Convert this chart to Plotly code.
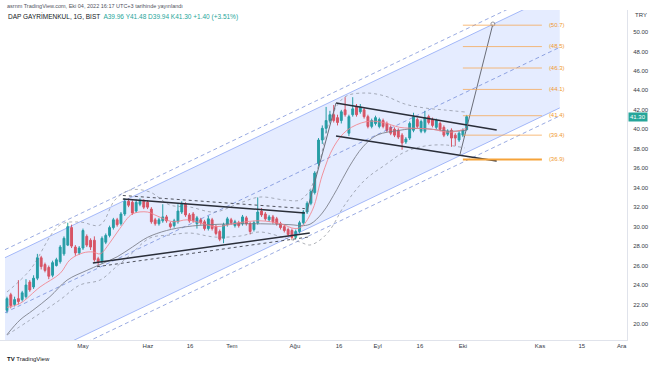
import plotly.graph_objects as go

# ---------------- data (bar index, price) ----------------
opens = [21.4,23.0,22.0,22.6,22.5,22.8,24.3,23.8,24.7,26.8,26.1,25.8,25.0,26.0,26.4,27.2,28.1,29.9,27.9,27.3,
         27.8,29.0,28.6,28.6,26.7,26.4,28.4,29.1,29.9,30.7,30.3,31.3,32.6,32.5,31.6,32.3,32.6,32.5,31.8,30.7,
         30.3,30.6,31.0,30.3,30.1,30.5,31.5,32.3,31.2,31.3,30.3,30.7,30.5,29.8,30.7,30.0,29.5,28.8,30.2,30.7,
         30.1,30.4,30.3,30.9,30.3,29.7,30.4,31.6,31.3,30.7,31.0,30.8,30.3,30.0,29.7,29.6,28.9,29.5,30.4,31.5,
         32.4,33.5,36.5,38.9,40.1,40.9,41.5,41.2,40.9,42.0,39.6,41.5,42.3,41.8,42.0,41.3,40.3,40.6,40.3,40.9,
         40.6,40.2,40.0,39.9,39.4,38.7,39.1,39.9,41.0,39.8,39.8,41.3,41.0,40.2,40.6,40.2,39.5,39.9,39.4,38.9,
         39.4,39.96]
highs = [22.8,23.2,22.8,24.5,23.4,24.6,24.5,25.0,27.2,27.0,26.3,26.0,26.5,26.8,28.1,29.0,30.4,30.2,28.1,28.0,
         29.8,29.2,28.8,29.0,26.9,29.0,29.3,30.1,30.9,30.9,31.5,32.9,32.9,32.7,32.8,32.9,32.8,32.7,32.0,30.9,
         30.9,32.3,31.2,30.5,30.8,32.3,32.6,32.5,31.4,31.5,31.1,30.9,30.7,31.1,30.9,30.2,29.7,30.4,31.0,30.9,
         30.7,30.6,31.2,31.1,30.5,30.6,33.0,31.9,31.5,31.2,31.2,31.0,30.5,30.2,29.9,29.8,29.7,30.6,31.7,32.6,
         33.8,35.7,39.1,40.4,42.3,41.9,42.5,41.5,42.0,43.3,41.5,43.3,42.6,42.6,42.2,41.5,41.1,41.4,41.2,41.1,
         40.8,40.4,40.2,40.1,39.6,39.2,40.8,41.7,41.2,41.0,41.9,41.5,41.2,41.1,40.8,40.4,40.0,40.1,39.6,39.8,
         40.1,41.48]
lows = [21.1,21.6,21.8,22.0,22.3,22.6,23.3,23.6,24.5,25.6,25.3,24.6,24.8,25.9,26.2,27.0,28.0,27.8,27.0,27.1,
        27.6,27.9,27.6,26.4,26.0,26.2,28.2,28.9,29.7,30.0,30.1,31.1,32.0,31.2,31.4,32.1,31.8,31.8,30.3,30.1,
        30.1,30.4,30.4,29.8,29.9,30.3,31.3,31.0,30.4,30.4,29.8,30.2,29.6,29.6,29.6,29.1,28.5,28.3,30.0,30.2,
        29.9,29.9,30.1,30.1,29.2,29.5,30.2,31.0,30.6,30.5,30.3,30.1,29.7,29.4,29.0,28.7,28.7,29.3,30.2,31.3,
        32.2,33.3,36.2,38.5,39.6,40.6,40.7,40.4,40.6,41.3,39.3,41.3,41.3,41.6,41.1,40.1,40.1,40.4,40.1,40.1,
        39.7,39.4,39.2,39.0,37.9,38.5,38.9,39.7,40.1,39.6,39.6,40.5,40.2,40.0,39.8,39.2,39.3,38.2,38.3,38.7,
        39.2,39.94]
closes = [22.6,21.9,22.5,22.3,23.2,24.0,23.5,24.7,26.8,25.9,25.5,24.9,26.3,26.6,27.9,28.8,30.0,28.0,27.3,27.8,
          29.6,28.1,27.9,26.6,26.4,28.8,29.1,29.9,30.7,30.2,31.3,32.6,32.2,31.4,32.5,32.6,32.0,32.0,30.5,30.3,
          30.7,31.0,30.6,30.0,30.6,31.6,32.3,31.2,30.6,30.6,30.9,30.4,29.8,30.8,29.8,29.3,28.7,30.2,30.8,30.4,
          30.5,30.1,31.0,30.3,29.5,30.4,31.5,31.2,30.8,31.0,30.5,30.3,29.9,29.6,29.2,28.9,29.5,30.4,31.5,32.4,
          33.6,35.5,38.9,40.1,40.9,41.5,40.9,40.7,41.8,41.5,41.3,42.1,41.5,42.3,41.3,40.3,40.9,41.2,41.0,40.3,
          39.9,39.6,39.4,39.2,38.6,39.0,40.6,41.3,40.3,40.8,41.2,40.7,40.4,40.9,40.0,39.4,39.8,39.1,39.1,39.6,
          39.9,41.30]
bars = list(range(len(closes)))

ma_fast_x = [0,3.4,8.7,14,16.6,20,22.6,24.5,27,29.7,33,37,39.5,43.7,47.4,50.8,55,61,66.6,72,75.8,77.6,80.5,83,86,89.5,94.7,99,103.4,108,112,116.6,121]
ma_fast_y = [21.7,22.1,23.8,25.2,26.6,27.3,27.4,27.2,28.3,29.8,31.3,31.5,31.1,30.5,30.7,30.4,30.0,30.4,30.6,30.3,29.8,30.0,31.8,35.3,38.2,39.9,40.8,40.7,40.2,40.1,40.0,39.7,40.1]
ma_slow_x = [0,3.4,6.8,11.3,15.8,21,24.5,29,33,37,42,47.4,53.4,64,74.5,78,80,83,86.8,90,93.7,97.4,103.4,108,112,116.6,121]
ma_slow_y = [18.9,20.4,21.4,22.8,24.5,25.5,26.1,26.9,27.9,28.9,29.6,30.0,30.2,30.3,30.2,30.1,30.3,31.4,33.8,36.1,38.2,39.4,39.9,40.1,40.0,39.8,39.9]

band_x = [0,6.05,13.9,19.2,24.5,28.4,32.4,37.6,42.9,48.2,54.7,61.3,66.6,73.2,77.1,79.7,82.4,85,88.9,94.2,99.5,104.7,110,115.3,120.5]
band_up = [23.28,25.54,30.16,30.47,30.16,32.73,33.76,33.56,32.22,32.01,31.5,32.43,33.04,32.73,32.73,33.76,36.84,40.96,43.32,43.73,43.42,42.6,42.19,41.98,41.78]
band_dn = [18.86,20.4,22.46,24.0,24.51,25.75,27.08,28.83,29.14,29.34,28.93,29.03,29.45,28.83,28.42,28.11,28.62,29.65,32.22,34.79,36.33,37.67,38.28,38.39,38.08]

# drawings (bar index, price)
channel_x = [-0.53, 145.5]
channel_upper = [26.81, 54.08]
channel_lower = [14.93, 42.2]
channel_upper_dash = [27.63, 54.9]
channel_lower_dash = [14.11, 41.38]
channel_mid = [21.16, 48.43]

tri_up_x = [30.5, 78.4]; tri_up_y = [32.84, 31.40]
tri_dn_x = [22.6, 79.7]; tri_dn_y = [26.26, 29.34]
tri_up_dot_y = [33.20, 31.85]
tri_dn_dot_x = [23.7, 79.7]; tri_dn_dot_y = [25.88, 28.95]

flag_x = [86.6, 128.9]
flag_up_y = [42.70, 39.93]
flag_dn_y = [39.31, 36.74]

proj1_x = [78.9, 86.6]; proj1_y = [31.50, 42.70]
proj2_x = [119.2, 127.9]; proj2_y = [37.36, 50.82]

fib_levels = [50.7, 48.5, 46.3, 44.1, 41.4, 39.4, 36.9]
fib_x = [120, 140.8]
fib_label_x = 144.7

tick_pos = [20, 37.1, 48.2, 59.2, 75.8, 87.4, 97.6, 108.7, 120, 140.3, 151.3, 161.8]
tick_text = ["May", "Haz", "16", "Tem", "Ağu", "16", "Eyl", "16", "Eki", "Kas", "15", "Ara"]
price_ticks = [20, 22, 24, 26, 28, 30, 32, 34, 36, 38, 40, 42, 44, 46, 48, 50]
last_price = 41.30

# ---------------- figure ----------------
FONT = "Liberation Sans"
BLUE_SOLID = "rgba(70,110,240,0.45)"
BLUE_DASH = "rgba(70,100,200,0.55)"
fig = go.Figure()

# channel fill
fig.add_trace(go.Scatter(
    x=[channel_x[0], channel_x[1], channel_x[1], channel_x[0], channel_x[0]],
    y=[channel_upper[0], channel_upper[1], channel_lower[1], channel_lower[0], channel_upper[0]],
    fill="toself", fillcolor="rgba(41,98,255,0.12)", line=dict(width=0), mode="lines",
    hoverinfo="skip", showlegend=False))
for yy, dash, col in [(channel_upper, "solid", BLUE_SOLID), (channel_lower, "solid", BLUE_SOLID),
                      (channel_upper_dash, "4px,3px", BLUE_DASH), (channel_lower_dash, "4px,3px", BLUE_DASH),
                      (channel_mid, "4px,3px", BLUE_DASH)]:
    fig.add_trace(go.Scatter(x=channel_x, y=yy, mode="lines",
                             line=dict(color=col, width=1, dash=dash),
                             hoverinfo="skip", showlegend=False))

# dotted bands
for yy in (band_up, band_dn):
    fig.add_trace(go.Scatter(x=band_x, y=yy, mode="lines",
                             line=dict(color="rgba(110,114,125,0.55)", width=1, dash="dot", shape="spline"),
                             hoverinfo="skip", showlegend=False))

# moving averages
fig.add_trace(go.Scatter(x=ma_slow_x, y=ma_slow_y, mode="lines",
                         line=dict(color="rgba(120,123,134,0.85)", width=1, shape="spline"),
                         hoverinfo="skip", showlegend=False))
fig.add_trace(go.Scatter(x=ma_fast_x, y=ma_fast_y, mode="lines",
                         line=dict(color="rgba(242,130,140,0.85)", width=1, shape="spline"),
                         hoverinfo="skip", showlegend=False))

# candles
fig.add_trace(go.Candlestick(
    x=bars, open=opens, high=highs, low=lows, close=closes,
    increasing=dict(line=dict(color="#26a69a", width=1), fillcolor="#26a69a"),
    decreasing=dict(line=dict(color="#ef5350", width=1), fillcolor="#ef5350"),
    whiskerwidth=0, showlegend=False, hoverinfo="skip"))

# triangle
fig.add_trace(go.Scatter(x=tri_up_x, y=tri_up_y, mode="lines", line=dict(color="#2a2e39", width=1.5),
                         hoverinfo="skip", showlegend=False))
fig.add_trace(go.Scatter(x=tri_dn_x, y=tri_dn_y, mode="lines", line=dict(color="#2a2e39", width=1.5),
                         hoverinfo="skip", showlegend=False))
fig.add_trace(go.Scatter(x=tri_up_x, y=tri_up_dot_y, mode="lines", line=dict(color="#50535e", width=1, dash="dot"),
                         hoverinfo="skip", showlegend=False))
fig.add_trace(go.Scatter(x=tri_dn_dot_x, y=tri_dn_dot_y, mode="lines", line=dict(color="#50535e", width=1, dash="dot"),
                         hoverinfo="skip", showlegend=False))

# flag
fig.add_trace(go.Scatter(x=flag_x, y=flag_up_y, mode="lines", line=dict(color="#2a2e39", width=1.5),
                         hoverinfo="skip", showlegend=False))
fig.add_trace(go.Scatter(x=flag_x, y=flag_dn_y, mode="lines", line=dict(color="#2a2e39", width=1.5),
                         hoverinfo="skip", showlegend=False))

# projections
fig.add_trace(go.Scatter(x=proj1_x, y=proj1_y, mode="lines", line=dict(color="#6a6d78", width=1),
                         hoverinfo="skip", showlegend=False))
fig.add_trace(go.Scatter(x=proj2_x, y=proj2_y, mode="lines+markers",
                         line=dict(color="#6a6d78", width=1),
                         marker=dict(size=[0, 4], color="white", line=dict(color="#6a6d78", width=1)),
                         hoverinfo="skip", showlegend=False))

# fib levels
for lv in fib_levels:
    bottom = lv == min(fib_levels)
    fig.add_trace(go.Scatter(x=fib_x, y=[lv, lv], mode="lines",
                             line=dict(color="#f5a33a" if bottom else "rgba(245,166,80,0.75)",
                                       width=1.8 if bottom else 1),
                             hoverinfo="skip", showlegend=False))
fig.add_trace(go.Scatter(x=[fib_label_x] * len(fib_levels), y=fib_levels, mode="text",
                         text=[f"({v:.1f})" for v in fib_levels],
                         textfont=dict(family=FONT, size=6, color="#f09a30"),
                         hoverinfo="skip", showlegend=False))

fig.update_layout(
    width=654, height=366,
    margin=dict(l=0, r=27, t=10, b=26),
    paper_bgcolor="white", plot_bgcolor="white",
    font=dict(family=FONT, size=6, color="#131722"),
    showlegend=False,
    xaxis=dict(range=[-1.84, 163.2], tickvals=tick_pos, ticktext=tick_text, showgrid=False,
               zeroline=False, showline=True, linecolor="#e0e3eb", linewidth=1, ticks="",
               rangeslider=dict(visible=False), tickfont=dict(size=6, color="#363a45"), fixedrange=True),
    yaxis=dict(range=[18.35, 52.26], side="right", tickvals=price_ticks, tickformat=".2f",
               showgrid=False, zeroline=False, showline=True, linecolor="#e0e3eb", linewidth=1,
               ticks="", ticklabelstandoff=4, tickfont=dict(size=6, color="#363a45"), fixedrange=True),
    annotations=[
        dict(text="asrnm TradingView.com, Eki 04, 2022 16:17 UTC+3 tarihinde yayınlandı",
             xref="paper", yref="paper", x=0.008, y=1.0, yshift=4, xanchor="left", yanchor="middle",
             showarrow=False, font=dict(size=5.5, color="#50535e")),
        dict(text=("DAP GAYRİMENKUL, 1G, BIST  "
                   "<span style='color:#26a69a'>A39.96 Y41.48 D39.94 K41.30 +1.40 (+3.51%)</span>"),
             xref="paper", yref="paper", x=0.01, y=1.0, yshift=-6, xanchor="left", yanchor="middle",
             showarrow=False, font=dict(size=6.5, color="#131722")),
        dict(text="TRY", xref="paper", yref="paper", x=1.0, xshift=6, y=1.0, yshift=-5,
             xanchor="left", yanchor="middle", showarrow=False, font=dict(size=6, color="#363a45")),
        dict(text=f"{last_price:.2f}", xref="paper", yref="y", x=1.0, xshift=1, y=last_price,
             xanchor="left", yanchor="middle", showarrow=False, bgcolor="#26a69a",
             font=dict(size=6, color="white"), borderpad=1),
        dict(text="<b>TV</b> TradingView", xref="paper", yref="paper", x=0.008, y=0, yshift=-19,
             xanchor="left", yanchor="middle", showarrow=False, font=dict(size=6, color="#131722")),
    ],
)

fig.write_html("out.html", config={"displayModeBar": False},
               post_script="document.body.style.margin='0';")
